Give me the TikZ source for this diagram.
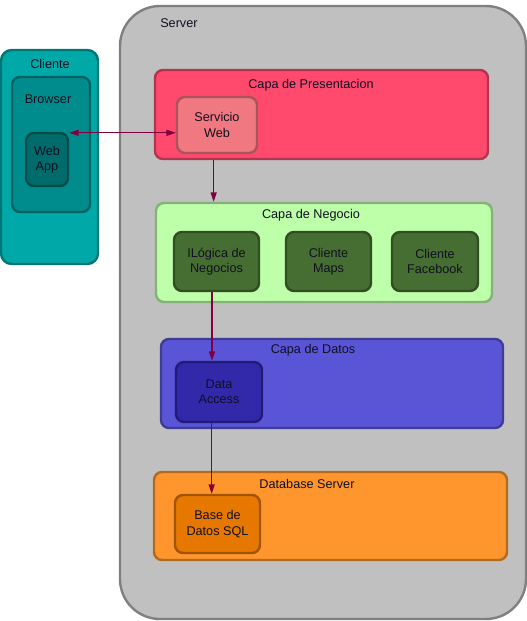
\documentclass[tikz,border=0pt]{standalone}
\usepackage{fontspec}
\setmainfont{Liberation Sans}
\usepackage{xcolor}
\usetikzlibrary{arrows.meta}
\usetikzlibrary{calc}

\definecolor{clienteC}{RGB}{0,168,168}
\definecolor{browserC}{RGB}{0,140,140}
\definecolor{webappC}{RGB}{0,107,107}
\definecolor{serverC}{RGB}{192,192,192}
\definecolor{presC}{RGB}{255,74,110}
\definecolor{servC}{RGB}{240,120,128}
\definecolor{negC}{RGB}{190,255,170}
\definecolor{logC}{RGB}{70,110,50}
\definecolor{datC}{RGB}{90,85,215}
\definecolor{accC}{RGB}{50,40,170}
\definecolor{dbC}{RGB}{255,150,45}
\definecolor{sqlC}{RGB}{230,120,0}
\definecolor{linkC}{RGB}{128,0,64}
\definecolor{textC}{RGB}{16,16,32}

\tikzset{
  box/.style={line width=1.8pt, rounded corners=6pt,
    inner sep=0pt, align=center, text=textC, font=\fontsize{9.5}{11.5}\selectfont},
  title/.style={text=textC, inner sep=0pt, font=\fontsize{9.5}{11.5}\selectfont},
  link/.style={draw=linkC, line width=0.9pt, -{Triangle[length=7pt,width=4.5pt]}},
  link2/.style={draw=linkC, line width=0.9pt, {Triangle[length=7pt,width=4.5pt]}-{Triangle[length=7pt,width=4.5pt]}}
}

\begin{document}
\begin{tikzpicture}[x=0.75pt,y=-0.75pt]

\useasboundingbox (0,0) rectangle (527,621);

\node[box, fill=serverC, draw=gray, rounded corners=30pt, minimum width=304.5pt, minimum height=459.75pt] (server) at (323,312.5) {};
\node[title, anchor=west] (serverT) at (160,23) {Server};

\node[box, fill=clienteC, draw=clienteC!70!black, rounded corners=8pt, minimum width=72.75pt, minimum height=160.5pt] (cliente) at (49.5,157) {};
\node[title] (clienteT) at (50,64) {Cliente};
\node[box, fill=browserC, draw=browserC!70!black, minimum width=58.5pt, minimum height=101.25pt] (browser) at (51,144.5) {};
\node[title] (browserT) at (48,99) {Browser};
\node[box, fill=webappC, draw=webappC!70!black, minimum width=31.5pt, minimum height=39.75pt] (webapp) at (47,159.5) {Web\\App};

\node[box, fill=presC, draw=presC!70!black, minimum width=249.75pt, minimum height=66.75pt] (pres) at (321.5,114.5) {};
\node[title] (presT) at (311,85) {Capa de Presentacion};
\node[box, fill=servC, draw=servC!70!black, minimum width=60pt, minimum height=42pt] (servicio) at (217,125) {Servicio\\Web};

\node[box, fill=negC, draw=negC!70!black, minimum width=252pt, minimum height=74.25pt] (neg) at (324,252.5) {};
\node[title] (negT) at (311,215) {Capa de Negocio};
\node[box, fill=logC, draw=logC!70!black, minimum width=63.75pt, minimum height=44.25pt] (logica) at (216.5,261.5) {ILógica de\\Negocios};
\node[box, fill=logC, draw=logC!70!black, minimum width=63.75pt, minimum height=44.25pt] (maps) at (328.5,261.5) {Cliente\\Maps};
\node[box, fill=logC, draw=logC!70!black, minimum width=64.5pt, minimum height=44.25pt] (facebook) at (435,261.5) {Cliente\\Facebook};

\node[box, fill=datC, draw=datC!70!black, minimum width=256.5pt, minimum height=66.75pt] (datos) at (332,383.5) {};
\node[title] (datosT) at (313,350) {Capa de Datos};
\node[box, fill=accC, draw=accC!70!black, minimum width=64.5pt, minimum height=45pt] (access) at (219,392) {Data\\Access};

\node[box, fill=dbC, draw=dbC!70!black, minimum width=264.75pt, minimum height=66pt] (db) at (330.5,516) {};
\node[title] (dbT) at (307,484) {Database Server};
\node[box, fill=sqlC, draw=sqlC!70!black, minimum width=63.75pt, minimum height=43.5pt] (sql) at (217.5,524) {Base de\\Datos SQL};

\draw[link2] ([yshift=-0.75pt]webapp.north east) -- ([yshift=-0.75pt]webapp.north east -| servicio.west);
\draw[link] ([xshift=-2.5pt]servicio.south |- pres.south) -- ([xshift=-2.5pt]servicio.south |- neg.north);
\draw[link] ([xshift=-3.4pt]logica.south) -- ([xshift=-3.4pt]logica.south |- access.north);
\draw[link] ([xshift=-5.5pt]access.south) -- ([xshift=-5.5pt]access.south |- sql.north);

\end{tikzpicture}
\end{document}
